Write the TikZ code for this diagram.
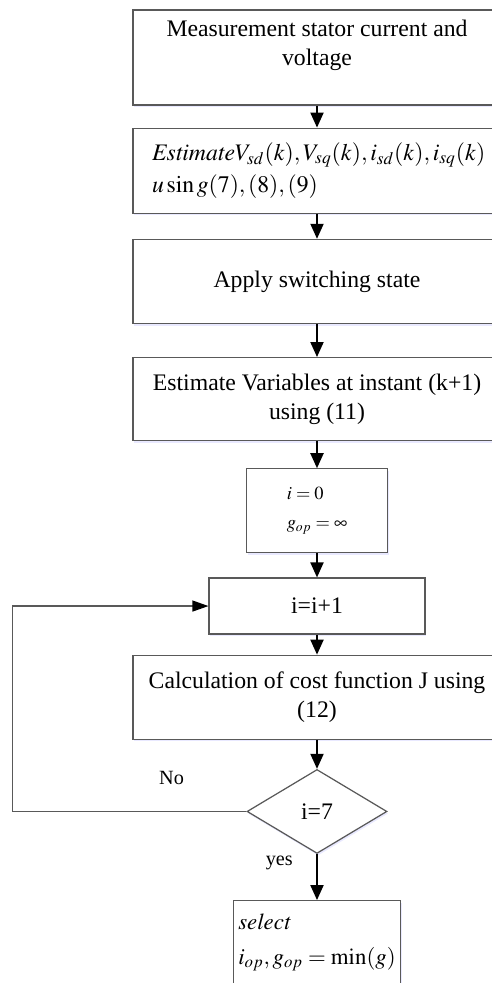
\documentclass[tikz,border=0pt]{standalone}
\usepackage{mathptmx}
\usepackage{fontspec}
\setmainfont{Liberation Serif}
\usetikzlibrary{arrows.meta,positioning,shapes.geometric,shadows}

\begin{document}
\begin{tikzpicture}[
  x=0.02cm, y=-0.02cm,
  font=\fontsize{13.5pt}{16.5pt}\selectfont,
  box/.style={draw=black!65,line width=0.7pt,fill=white,minimum width=7.36cm,minimum height=1.68cm,align=center,
    drop shadow={shadow xshift=0.6pt,shadow yshift=-1.2pt,fill=blue!25,opacity=0.35}},
  decision/.style={draw=black!65,line width=0.7pt,fill=white,diamond,inner sep=0pt,minimum width=2.8cm,minimum height=1.68cm,
    drop shadow={shadow xshift=0.6pt,shadow yshift=-1.2pt,fill=blue!25,opacity=0.35}},
  arr/.style={-{Triangle[length=0.3cm,width=0.26cm]},line width=1.1pt,black},
  backline/.style={draw=black!65,line width=0.7pt,-{Triangle[length=0.32cm,width=0.22cm,color=black]}},
  lbl/.style={font=\fontsize{11.5pt}{14pt}\selectfont}
]
  \useasboundingbox (0,0) rectangle (492,983);
  \clip (0,0) rectangle (492,983);

  \node[box,minimum height=1.9cm] (meas) at (317,57.5) {Measurement stator current and\\voltage\\\mbox{}};
  \node[box,minimum height=1.7cm,text width=6.6cm,align=left,below=0.44cm of meas] (est)
    {$\mathit{Estimate}V_{sd}(k),V_{sq}(k),i_{sd}(k),i_{sq}(k)$\\[2pt]$u\sin g(7),(8),(9)$};
  \node[box,below=0.5cm of est] (apply) {Apply switching state};
  \node[box,minimum height=1.66cm,below=0.66cm of apply] (var) {Estimate Variables at instant (k+1)\\using (11)};
  \node[box,minimum width=2.82cm,align=left,font=\fontsize{10.5pt}{16.5pt}\selectfont,below=0.54cm of var] (init)
    {$i=0$\\$g_{op}=\infty$};
  \node[box,minimum width=4.32cm,minimum height=1.12cm,below=0.48cm of init] (inc) {i=i+1};
  \node[box,below=0.4cm of inc] (cost) {Calculation of cost function J using\\(12)};
  \node[decision,below=0.58cm of cost] (chk) {i=7};
  \node[box,minimum width=3.28cm,inner xsep=0.1cm,align=left,font=\fontsize{13pt}{16.5pt}\selectfont,below=0.92cm of chk] (sel)
    {$\mathit{select}$\\[3pt]$i_{op},g_{op}=\min(g)$};
  \coordinate[left=4.68cm of chk.west] (back);

  \draw[arr] (meas) -- (est);
  \draw[arr] (est) -- (apply);
  \draw[arr] (apply) -- (var);
  \draw[arr] (var) -- (init);
  \draw[arr] (init) -- (inc);
  \draw[arr] (inc) -- (cost);
  \draw[arr] (cost) -- (chk);
  \draw[arr] (chk) -- node[lbl,pos=0.2,left=0.35cm]{yes} (sel);
  \draw[backline] (chk.west) -- node[lbl,pos=0.32,above=0.4cm]{No} (back) |- (inc.west);
\end{tikzpicture}
\end{document}
